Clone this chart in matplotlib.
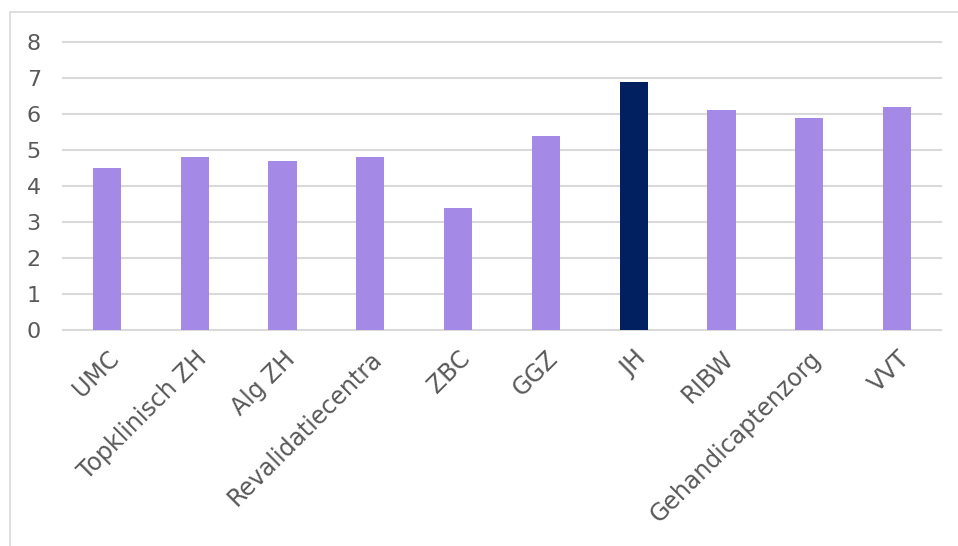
import matplotlib.pyplot as plt
from matplotlib.patches import Rectangle

# data
categories = ['UMC', 'Topklinisch ZH', 'Alg ZH', 'Revalidatiecentra', 'ZBC',
              'GGZ', 'JH', 'RIBW', 'Gehandicaptenzorg', 'VVT']
values = [4.5, 4.8, 4.7, 4.8, 3.4, 5.4, 6.9, 6.1, 5.9, 6.2]
highlight = 'JH'

light = '#A48AE6'
dark = '#00205F'
colors = [dark if c == highlight else light for c in categories]

fig = plt.figure(figsize=(9.58, 5.46), dpi=100)
W, H = 958, 546

# chart area border (cut off on the right and bottom in the original)
fig.patches.append(Rectangle((10 / W, -0.1), 1.2, (H - 12) / H + 0.1,
                             transform=fig.transFigure, fill=False,
                             edgecolor='#D9D9D9', linewidth=1.2))

ax = fig.add_axes([63 / W, (H - 330) / H, (941 - 63) / W, (330 - 42) / H])
x = range(len(categories))
ax.bar(x, values, width=0.32, color=colors, zorder=3)

ax.set_ylim(0, 8)
ax.set_xlim(-0.5, len(categories) - 0.5)
ax.set_yticks(range(0, 9))
ax.yaxis.grid(True, color='#D9D9D9', linewidth=1.5, zorder=0)
for gl in ax.get_ygridlines():
    gl.set_clip_on(False)
ax.set_axisbelow(True)
for s in ax.spines.values():
    s.set_visible(False)
ax.tick_params(length=0, colors='#595959', labelsize=16)
ax.tick_params(axis='y', pad=16)
ax.set_xticks(list(x))
ax.set_xticklabels(categories, rotation=45, ha='right', rotation_mode='anchor',
                   fontsize=17)
ax.tick_params(axis='x', pad=12)

fig.savefig('out.png', dpi=100)
